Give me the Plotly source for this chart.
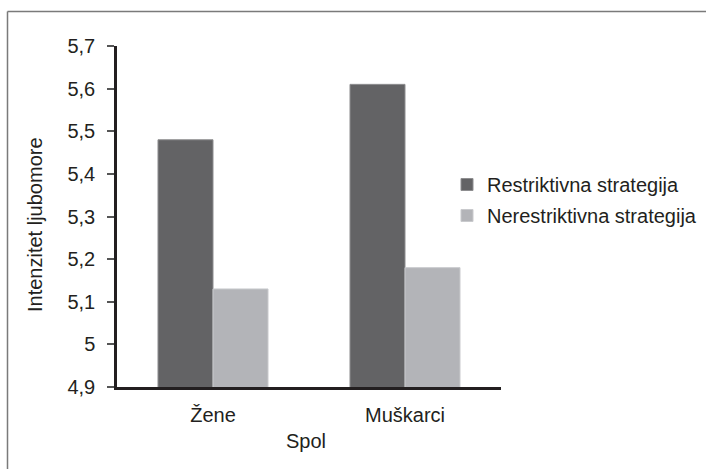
import plotly.graph_objects as go

categories = ["Žene", "Muškarci"]
series_names = ["Restriktivna strategija", "Nerestriktivna strategija"]
restriktivna = [5.48, 5.61]
nerestriktivna = [5.13, 5.18]
y_tick_vals = [4.9, 5.0, 5.1, 5.2, 5.3, 5.4, 5.5, 5.6, 5.7]
y_tick_text = ["4,9", "5", "5,1", "5,2", "5,3", "5,4", "5,5", "5,6", "5,7"]
x_title = "Spol"
y_title = "Intenzitet ljubomore"

W, H = 706, 469
L, R, T, B = 117, 205, 46, 82
pw, ph = W - L - R, H - T - B

def px_x(px):
    return (px - L) / pw

def px_y(py):
    return 1 - (py - T) / ph

FONT = "Liberation Sans, Arial, sans-serif"
TXT = "#231f20"
fs = 20

fig = go.Figure()
fig.add_trace(go.Bar(
    x=categories, y=restriktivna, name=series_names[0],
    marker=dict(color="#636365", line=dict(color="#8e8e90", width=1)),
    legendgroup="a",
))
fig.add_trace(go.Bar(
    x=categories, y=nerestriktivna, name=series_names[1],
    marker=dict(color="#b3b4b8", line=dict(color="#c9cacd", width=1)),
    legendgroup="b",
))

fig.update_layout(
    width=W, height=H,
    margin=dict(l=L, r=R, t=T, b=B, pad=0, autoexpand=False),
    paper_bgcolor="white", plot_bgcolor="white",
    font=dict(family=FONT, size=fs, color=TXT),
    barmode="group", bargap=0.427, bargroupgap=0,
    showlegend=True,
    legend=dict(
        x=px_x(447), y=px_y(200), xanchor="left", yanchor="middle",
        traceorder="grouped", tracegroupgap=2,
        font=dict(family=FONT, size=fs, color=TXT),
        bgcolor="rgba(0,0,0,0)",
    ),
    xaxis=dict(
        showline=True, linecolor=TXT, linewidth=2.5,
        ticks="", showgrid=False, zeroline=False,
        ticklabelstandoff=8,
        range=[-0.5, 1.5],
        tickfont=dict(size=fs),
    ),
    yaxis=dict(
        range=[4.9, 5.7], showline=True, linecolor=TXT, linewidth=2.5,
        ticks="outside", ticklen=7, tickwidth=1.5, tickcolor="#555555",
        tickvals=y_tick_vals, ticktext=y_tick_text,
        showgrid=False, zeroline=False, ticklabelstandoff=8,
        tickfont=dict(size=fs),
    ),
    annotations=[
        dict(text=y_title, xref="paper", yref="paper",
             x=px_x(35), y=px_y(225), xanchor="center", yanchor="middle",
             textangle=-90, showarrow=False, font=dict(size=fs)),
        dict(text=x_title, xref="paper", yref="paper",
             x=px_x(306), y=px_y(441), xanchor="center", yanchor="middle",
             showarrow=False, font=dict(size=fs)),
    ],
    shapes=[
        dict(type="line", xref="paper", yref="paper",
             x0=px_x(7.5), x1=px_x(706), y0=px_y(11.5), y1=px_y(11.5),
             line=dict(color="#7a7a7a", width=1.5)),
        dict(type="line", xref="paper", yref="paper",
             x0=px_x(7.5), x1=px_x(7.5), y0=px_y(11.5), y1=px_y(469),
             line=dict(color="#7a7a7a", width=1.5)),
    ],
)

fig.write_html(
    "out.html",
    config={"displayModeBar": False},
    post_script="document.body.style.margin='0';document.body.style.overflow='hidden';",
)
